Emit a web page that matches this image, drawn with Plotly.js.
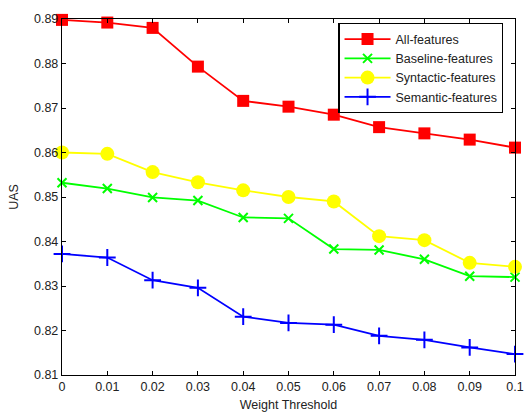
<!DOCTYPE html>
<html>
<head>
<meta charset="utf-8">
<script src="https://cdn.plot.ly/plotly-3.0.1.min.js"></script>
<style>html,body{margin:0;padding:0;background:#fff;}#chart{width:525px;height:413px;}</style>
</head>
<body>
<div id="chart"></div>
<script>
const thresholds = [0, 0.01, 0.02, 0.03, 0.04, 0.05, 0.06, 0.07, 0.08, 0.09, 0.1];
const allFeatures = [0.8898, 0.8892, 0.8880, 0.8793, 0.8716, 0.8703, 0.8685, 0.8657, 0.8643, 0.8629, 0.8611];
const baselineFeatures = [0.8532, 0.8519, 0.8499, 0.8492, 0.8454, 0.8452, 0.8383, 0.8381, 0.8360, 0.8322, 0.8320];
const syntacticFeatures = [0.8600, 0.8597, 0.8556, 0.8533, 0.8515, 0.8500, 0.8490, 0.8412, 0.8403, 0.8352, 0.8343];
const semanticFeatures = [0.8372, 0.8364, 0.8313, 0.8296, 0.8231, 0.8217, 0.8213, 0.8188, 0.8179, 0.8162, 0.8147];
const seriesNames = ['All-features', 'Baseline-features', 'Syntactic-features', 'Semantic-features'];
const xTicks = [0, 0.01, 0.02, 0.03, 0.04, 0.05, 0.06, 0.07, 0.08, 0.09, 0.1];
const xTickLabels = ['0', '0.01', '0.02', '0.03', '0.04', '0.05', '0.06', '0.07', '0.08', '0.09', '0.1'];
const yTicks = [0.81, 0.82, 0.83, 0.84, 0.85, 0.86, 0.87, 0.88, 0.89];

const traces = [
  {x: thresholds, y: allFeatures, name: seriesNames[0], mode: 'lines+markers', cliponaxis: false,
   line: {color: '#ff0000', width: 1.8}, marker: {symbol: 'square', size: 12, color: '#ff0000'}},
  {x: thresholds, y: baselineFeatures, name: seriesNames[1], mode: 'lines+markers', cliponaxis: false,
   line: {color: '#00ff00', width: 1.8}, marker: {symbol: 'x-thin-open', size: 9, color: '#00ff00', line: {color: '#00ff00', width: 2}}},
  {x: thresholds, y: syntacticFeatures, name: seriesNames[2], mode: 'lines+markers', cliponaxis: false,
   line: {color: '#ffff00', width: 1.8}, marker: {symbol: 'circle', size: 14, color: '#ffff00'}},
  {x: thresholds, y: semanticFeatures, name: seriesNames[3], mode: 'lines+markers', cliponaxis: false,
   line: {color: '#0000ff', width: 1.8}, marker: {symbol: 'cross-thin-open', size: 12, color: '#0000ff', line: {color: '#0000ff', width: 2}}}
];

const axisCommon = {
  showgrid: false, zeroline: false, showline: true, linecolor: '#000', linewidth: 1.2,
  mirror: 'ticks', ticks: 'inside', ticklen: 4, tickcolor: '#000',
  tickfont: {family: 'Liberation Sans, Arial, sans-serif', size: 12.5, color: '#222'}
};

const layout = {
  width: 525, height: 413,
  margin: {l: 62, r: 10, t: 19, b: 38},
  paper_bgcolor: '#fff', plot_bgcolor: '#fff',
  font: {family: 'Liberation Sans, Arial, sans-serif', size: 12.5, color: '#222'},
  xaxis: Object.assign({}, axisCommon, {
    range: [0, 0.1], tickvals: xTicks, ticktext: xTickLabels, ticklabelstandoff: 0,
    title: {text: 'Weight Threshold', standoff: 7, font: {size: 12.5}}
  }),
  yaxis: Object.assign({}, axisCommon, {
    range: [0.81, 0.89], tickvals: yTicks, tickformat: '.2f',
    title: {text: 'UAS', standoff: 12, font: {size: 12.5}}
  }),
  legend: {
    x: 0.61, y: 0.988, xanchor: 'left', yanchor: 'top',
    bordercolor: '#000', borderwidth: 1.2, bgcolor: '#fff',
    font: {size: 12.5, color: '#222'}, tracegroupgap: 0, itemwidth: 46
  },
  showlegend: true
};

Plotly.newPlot('chart', traces, layout, {displayModeBar: false, staticPlot: true});
</script>
</body>
</html>
